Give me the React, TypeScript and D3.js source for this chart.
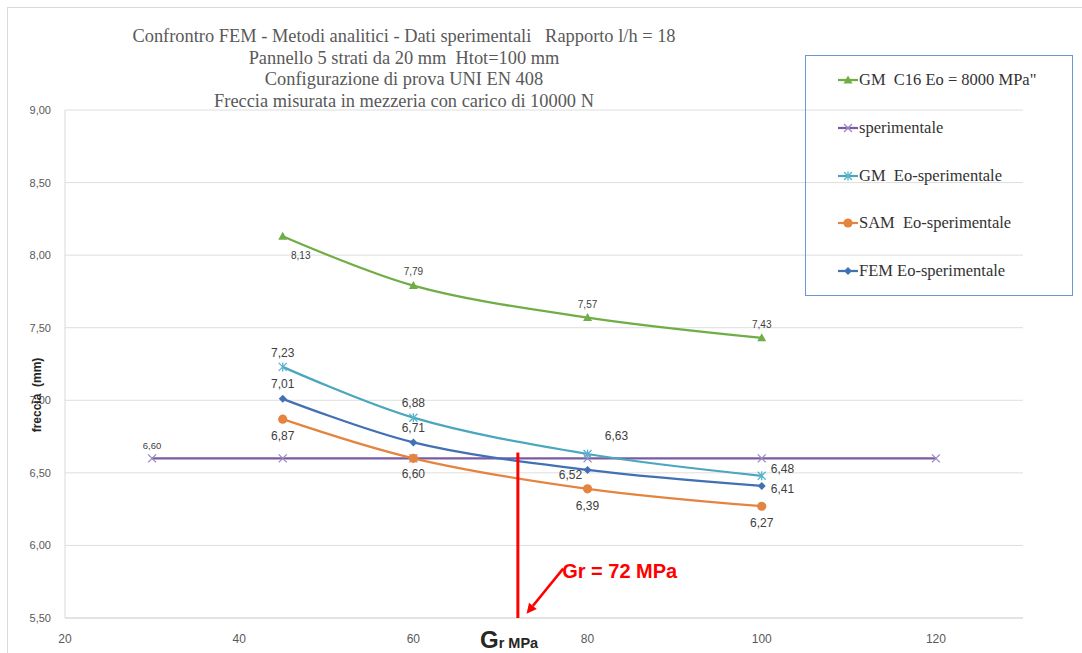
import React from "react";
import * as d3 from "d3";

// Shear modulus Gr (MPa) at which each model was evaluated
const gValues = [45, 60, 80, 100];
// Mid-span deflection (mm) per model
const gmC16 = [8.13, 7.79, 7.57, 7.43];
const gmEo = [7.23, 6.88, 6.63, 6.48];
const samEo = [6.87, 6.6, 6.39, 6.27];
const femEo = [7.01, 6.71, 6.52, 6.41];
// Measured deflection, drawn as a reference line
const speriX = [30, 45, 60, 80, 100, 120];
const speriY = [6.6, 6.6, 6.6, 6.6, 6.6, 6.6];

const yTicks = [5.5, 6.0, 6.5, 7.0, 7.5, 8.0, 8.5, 9.0];
const xTicks = [20, 40, 60, 80, 100, 120];

const titleLines = [
  "Confrontro FEM - Metodi analitici - Dati sperimentali   Rapporto l/h = 18",
  "Pannello 5 strati da 20 mm  Htot=100 mm",
  "Configurazione di prova UNI EN 408",
  "Freccia misurata in mezzeria con carico di 10000 N",
];

const legendNames = [
  'GM  C16 Eo = 8000 MPa"',
  "sperimentale",
  "GM  Eo-sperimentale",
  "SAM  Eo-sperimentale",
  "FEM Eo-sperimentale",
];

const grValue = 72;
const grLabel = "Gr = 72 MPa";

const W = 1082;
const H = 653;

const x = d3.scaleLinear().domain([20, 130]).range([65, 1023]);
const y = d3.scaleLinear().domain([5.5, 9]).range([618, 110]);

const fmt = (v: number) => d3.format(".2f")(v).replace(".", ",");
// keep runs of spaces visible in SVG text
const keepSpaces = (s: string) => s.replace(/ (?= )/g, "\u00A0");

type Marker = "triangle" | "x" | "asterisk" | "circle" | "diamond";

type LabelPos = { dx: number; dy: number; anchor?: "start" | "middle" | "end" };

interface Series {
  name: string;
  xs: number[];
  ys: number[];
  color: string;
  markerColor: string;
  marker: Marker;
  smooth: boolean;
  labelSize: number;
  labels: (LabelPos | null)[];
}

const series: Series[] = [
  {
    name: legendNames[0],
    xs: gValues,
    ys: gmC16,
    color: "#70AD47",
    markerColor: "#70AD47",
    marker: "triangle",
    smooth: true,
    labelSize: 10,
    labels: [
      { dx: 18, dy: 23 },
      { dx: 0, dy: -10.5 },
      { dx: 0, dy: -10 },
      { dx: 0, dy: -10 },
    ],
  },
  {
    name: legendNames[1],
    xs: speriX,
    ys: speriY,
    color: "#7A5BA3",
    markerColor: "#9C87C6",
    marker: "x",
    smooth: false,
    labelSize: 9.5,
    labels: [{ dx: 0, dy: -9 }, null, null, null, null, null],
  },
  {
    name: legendNames[2],
    xs: gValues,
    ys: gmEo,
    color: "#4BA6BE",
    markerColor: "#58B4CC",
    marker: "asterisk",
    smooth: true,
    labelSize: 12,
    labels: [
      { dx: 0, dy: -10 },
      { dx: 0, dy: -11 },
      { dx: 29, dy: -14 },
      { dx: 9, dy: -3, anchor: "start" },
    ],
  },
  {
    name: legendNames[3],
    xs: gValues,
    ys: samEo,
    color: "#E4843F",
    markerColor: "#E4843F",
    marker: "circle",
    smooth: true,
    labelSize: 12,
    labels: [
      { dx: 0, dy: 21 },
      { dx: 0, dy: 20 },
      { dx: 0, dy: 21 },
      { dx: 0, dy: 21 },
    ],
  },
  {
    name: legendNames[4],
    xs: gValues,
    ys: femEo,
    color: "#4270B4",
    markerColor: "#4270B4",
    marker: "diamond",
    smooth: true,
    labelSize: 12,
    labels: [
      { dx: 0, dy: -11 },
      { dx: 0, dy: -10 },
      { dx: -17, dy: 9 },
      { dx: 9, dy: 7.5, anchor: "start" },
    ],
  },
];

function MarkerShape({ kind, cx, cy, color }: { kind: Marker; cx: number; cy: number; color: string }) {
  switch (kind) {
    case "triangle":
      return (
        <path
          d={`M${cx},${cy - 4.5}L${cx + 4.5},${cy + 3.5}L${cx - 4.5},${cy + 3.5}Z`}
          fill={color}
        />
      );
    case "x":
      return (
        <path
          d={`M${cx - 4},${cy - 4}L${cx + 4},${cy + 4}M${cx - 4},${cy + 4}L${cx + 4},${cy - 4}`}
          stroke={color}
          strokeWidth={1.3}
          fill="none"
        />
      );
    case "asterisk":
      return (
        <path
          d={`M${cx - 4},${cy - 4}L${cx + 4},${cy + 4}M${cx - 4},${cy + 4}L${cx + 4},${cy - 4}M${cx},${cy - 4.5}L${cx},${cy + 4.5}`}
          stroke={color}
          strokeWidth={1.3}
          fill="none"
        />
      );
    case "circle":
      return <circle cx={cx} cy={cy} r={4.6} fill={color} />;
    case "diamond":
      return (
        <path
          d={`M${cx},${cy - 4}L${cx + 4},${cy}L${cx},${cy + 4}L${cx - 4},${cy}Z`}
          fill={color}
        />
      );
  }
}

export default function App() {
  const smoothLine = d3
    .line<[number, number]>()
    .x((d) => x(d[0]))
    .y((d) => y(d[1]))
    .curve(d3.curveCatmullRom.alpha(0.5));
  const straightLine = d3
    .line<[number, number]>()
    .x((d) => x(d[0]))
    .y((d) => y(d[1]));

  const legendX = 805;
  const legendY = 55;
  const legendRowY = [80, 128, 176, 223, 271];

  // arrow pointing at the Gr value on the axis
  const arrowTail: [number, number] = [x(grValue + 5.2), y(5.84)];
  const arrowTip: [number, number] = [x(grValue + 1), y(5.53)];
  const ang = Math.atan2(arrowTip[1] - arrowTail[1], arrowTip[0] - arrowTail[0]);
  const ah = 10;
  const aw = 5;
  const headBase: [number, number] = [arrowTip[0] - ah * Math.cos(ang), arrowTip[1] - ah * Math.sin(ang)];
  const headPts = [
    arrowTip,
    [headBase[0] + aw * Math.sin(ang), headBase[1] - aw * Math.cos(ang)],
    [headBase[0] - aw * Math.sin(ang), headBase[1] + aw * Math.cos(ang)],
  ];

  return (
    <svg
      width={W}
      height={H}
      viewBox={`0 0 ${W} ${H}`}
      style={{ position: "absolute", left: 0, top: 0, background: "#fff" }}
      fontFamily="'Liberation Sans', Arial, sans-serif"
    >
      <rect x={0} y={0} width={W} height={H} fill="#fff" />
      {/* chart area frame */}
      <rect x={7.5} y={7.5} width={W + 20} height={H + 20} fill="none" stroke="#d9d9d9" strokeWidth={1} />

      {/* horizontal gridlines */}
      {yTicks.map((t) => (
        <line
          key={t}
          x1={x(20)}
          x2={x(130)}
          y1={y(t)}
          y2={y(t)}
          stroke={t === 5.5 ? "#c8c8c8" : "#dedede"}
          strokeWidth={1}
        />
      ))}
      {/* vertical axis line */}
      <line x1={x(20)} x2={x(20)} y1={y(9)} y2={y(5.5)} stroke="#d9d9d9" strokeWidth={1} />

      {/* y tick labels */}
      {yTicks.map((t) => (
        <text key={t} x={51} y={y(t) + 4} textAnchor="end" fontSize={11} fill="#595959">
          {fmt(t)}
        </text>
      ))}
      {/* x tick labels */}
      {xTicks.map((t) => (
        <text key={t} x={x(t)} y={643} textAnchor="middle" fontSize={12} fill="#595959">
          {t}
        </text>
      ))}

      {/* title */}
      {titleLines.map((l, i) => (
        <text
          key={i}
          x={404}
          y={42 + i * 21.5}
          textAnchor="middle"
          fontFamily="'Liberation Serif', 'Times New Roman', serif"
          fontSize={18.4}
          fill="#595959"
        >
          {keepSpaces(l)}
        </text>
      ))}

      {/* series lines */}
      {series.map((s) => {
        const pts = s.xs.map((v, i) => [v, s.ys[i]] as [number, number]);
        const d = s.smooth ? smoothLine(pts) : straightLine(pts);
        return <path key={s.name} d={d || ""} fill="none" stroke={s.color} strokeWidth={2.25} />;
      })}
      {/* markers */}
      {series.map((s) => (
        <g key={s.name + "-m"}>
          {s.xs.map((v, i) => (
            <MarkerShape key={i} kind={s.marker} cx={x(v)} cy={y(s.ys[i])} color={s.markerColor} />
          ))}
        </g>
      ))}
      {/* data labels */}
      {series.map((s) => (
        <g key={s.name + "-l"}>
          {s.xs.map((v, i) => {
            const p = s.labels[i];
            if (!p) return null;
            return (
              <text
                key={i}
                x={x(v) + p.dx}
                y={y(s.ys[i]) + p.dy}
                textAnchor={p.anchor || "middle"}
                fontSize={s.labelSize}
                fill="#404040"
              >
                {fmt(s.ys[i])}
              </text>
            );
          })}
        </g>
      ))}

      {/* Gr marker line and annotation */}
      <line x1={x(grValue)} x2={x(grValue)} y1={y(6.64)} y2={y(5.5)} stroke="#FF0000" strokeWidth={3} />
      <line
        x1={arrowTail[0]}
        y1={arrowTail[1]}
        x2={headBase[0]}
        y2={headBase[1]}
        stroke="#FF0000"
        strokeWidth={2.5}
      />
      <polygon points={headPts.map((p) => p.join(",")).join(" ")} fill="#FF0000" />
      <text x={arrowTail[0] - 1} y={578} fontSize={20} fontWeight="bold" fill="#FF0000">
        {grLabel}
      </text>

      {/* axis titles */}
      <text
        transform={`translate(41,395) rotate(-90)`}
        textAnchor="middle"
        fontSize={12}
        fontWeight="bold"
        fill="#262626"
      >
        {keepSpaces("freccia  (mm)")}
      </text>
      <text x={480} y={648} fontWeight="bold" fill="#262626">
        <tspan fontSize={24}>G</tspan>
        <tspan fontSize={14.5}>r MPa</tspan>
      </text>

      {/* legend */}
      <rect
        x={legendX + 0.5}
        y={legendY + 0.5}
        width={267}
        height={240}
        fill="none"
        stroke="#6A98D2"
        strokeWidth={1}
      />
      {series.map((s, i) => (
        <g key={s.name + "-leg"}>
          <line x1={838} x2={858} y1={legendRowY[i]} y2={legendRowY[i]} stroke={s.color} strokeWidth={2.25} />
          <MarkerShape kind={s.marker} cx={848} cy={legendRowY[i]} color={s.markerColor} />
          <text
            x={859}
            y={legendRowY[i] + 5}
            fontFamily="'Liberation Serif', 'Times New Roman', serif"
            fontSize={16.5}
            fill="#333"
          >
            {keepSpaces(s.name)}
          </text>
        </g>
      ))}
    </svg>
  );
}
